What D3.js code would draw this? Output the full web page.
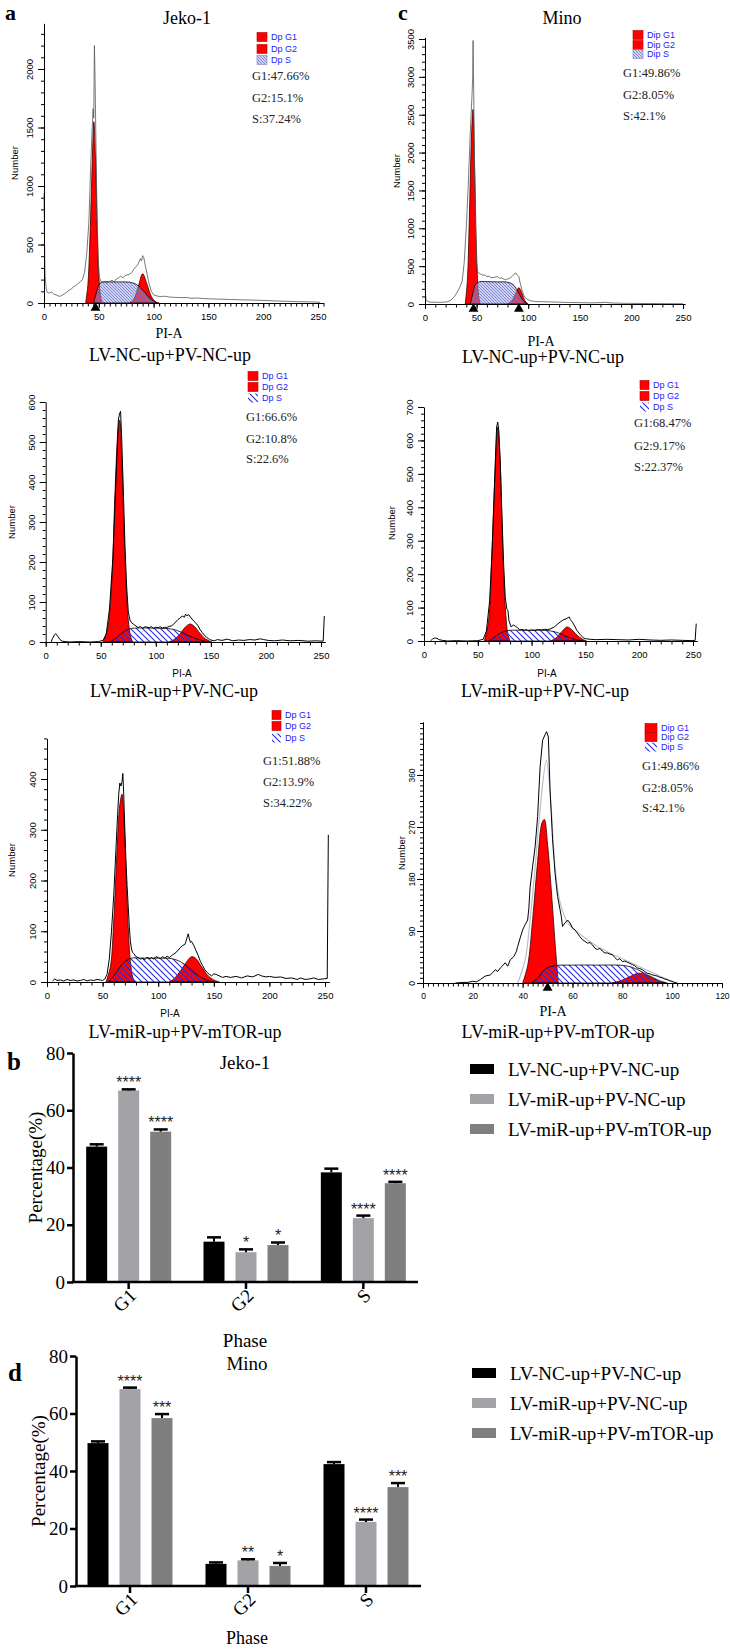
<!DOCTYPE html>
<html><head><meta charset="utf-8">
<script src="https://cdn.jsdelivr.net/npm/d3@7"></script>
<style>body{margin:0;background:#fff}svg{display:block}</style>
</head><body>
<svg id="chart" width="730" height="1652"></svg>
<script>
// ---------------- DATA ----------------
// Flow-cytometry histograms: [PI-A, Number]
const a1Outline = [[0,940],[0.5,500],[1,230],[2,120],[3,90],[5,85],[7,95],[9,75],[11,70],[13,60],[15,58],[17,70],[19,80],[21,95],[23,110],[25,120],[27,140],[29,150],[31,165],[33,180],[35,200],[37,260],[39,420],[41,700],[42.5,1150],[44,1500],[44.8,1660],[45.4,1580],[46,2200],[46.6,1900],[47.5,1300],[48.5,700],[49.5,380],[50.5,220],[52,185],[54,175],[56,180],[58,170],[60,185],[62,195],[64,180],[66,205],[68,215],[70,230],[72,215],[74,235],[76,240],[78,245],[80,260],[82,290],[84,310],[86,335],[88,380],[89,360],[90,405],[91,390],[92,340],[94,250],[96,160],[98,100],[100,70],[103,60],[106,55],[110,58],[115,50],[120,48],[125,46],[130,47],[135,40],[140,43],[145,38],[150,36],[160,33],[170,30],[180,27],[190,25],[200,22],[210,18],[220,15],[230,12],[240,10],[250,8],[252,4]];
const a1G1 = [[38,0],[40,150],[42,580],[44,1200],[45.5,1550],[47,1250],[48.5,650],[50,230],[52,40],[53,0]];
const a1G2 = [[78,0],[82,35],[86,140],[90,250],[94,160],[98,55],[102,10],[105,0]];
const a1S = [[45,0],[47,60],[49,130],[52,175],[56,182],[62,180],[70,180],[78,178],[84,160],[88,130],[92,90],[96,45],[100,15],[103,0]];

const c1Outline = [[0,280],[0.5,120],[1,50],[3,30],[6,25],[10,22],[14,22],[18,24],[22,30],[25,50],[28,90],[31,150],[34,230],[36,300],[38,550],[40,1000],[42,1600],[44,2300],[45.5,2740],[46.2,3000],[46.6,3480],[47.2,2800],[48,1800],[49,1000],[50,520],[51,430],[52,410],[54,395],[56,380],[58,385],[60,360],[62,370],[64,345],[66,350],[68,355],[70,365],[72,340],[74,345],[76,330],[78,320],[80,330],[82,340],[84,360],[86,390],[88,410],[89,385],[90,375],[91,360],[92,290],[94,180],[96,110],[98,70],[100,55],[103,40],[106,35],[110,30],[115,30],[120,28],[130,24],[140,20],[150,18],[160,15],[170,18],[175,22],[180,14],[190,10],[200,8],[220,6],[240,4],[250,4]];
const c1G1 = [[39,0],[41,300],[43,1150],[45,2200],[46.5,2570],[48,1850],[50,650],[52,100],[53.5,0]];
const c1G2 = [[80,0],[84,40],[88,150],[91,215],[94,140],[97,40],[100,0]];
const c1S = [[44,0],[46,120],[49,260],[53,295],[60,295],[70,292],[80,288],[85,260],[89,190],[93,90],[96,30],[99,0]];

const a2Outline = [[5,0],[6,8],[8,18],[9,21],[11,14],[13,6],[15,2],[18,1],[22,0],[30,1],[40,0],[48,1],[52,4],[55,20],[58,85],[61,210],[63,350],[64.5,450],[66,555],[67,570],[68,577],[69,510],[70.5,380],[72,240],[73.5,140],[75,75],[76.5,55],[78,48],[80,44],[82,40],[84,36],[86,39],[88,34],[90,38],[92,37],[94,36],[96,38],[98,34],[100,37],[102,36],[104,38],[106,35],[108,37],[110,36],[112,39],[114,40],[116,44],[118,50],[120,56],[122,60],[124,65],[126,62],[127,70],[128,66],[130,68],[132,60],[134,54],[136,48],[138,42],[140,32],[142,24],[144,17],[146,12],[148,8],[150,5],[153,3],[156,6],[160,4],[165,7],[170,3],[175,5],[180,4],[185,6],[190,5],[195,8],[198,6],[202,4],[208,3],[215,5],[222,3],[230,4],[238,2],[245,3],[252,2],[253,65]];
const a2G1 = [[52,0],[56,30],[60,150],[63,380],[66,540],[67.2,555],[69,460],[71,290],[73,140],[75,55],[77,15],[79,0]];
const a2G2 = [[112,0],[117,7],[122,20],[126,35],[131,45],[135,39],[140,22],[145,8],[151,0]];
const a2S = [[58,0],[62,6],[66,15],[70,24],[74,31],[78,34],[85,35],[95,35],[105,34],[113,33],[119,29],[125,22],[131,14],[137,8],[143,3],[148,0]];

const c2Outline = [[6,0],[8,6],[10,9],[12,8],[14,4],[17,2],[22,0],[30,1],[40,0],[50,1],[55,5],[58,30],[61,120],[63,250],[65,420],[66.5,560],[67.5,640],[68.5,655],[69.5,630],[71,520],[72.5,370],[74,230],[75.5,130],[77,95],[78,92],[79,60],[81,42],[83,48],[85,44],[87,40],[89,33],[91,35],[93,32],[95,34],[97,31],[100,33],[103,32],[106,34],[109,33],[112,35],[115,34],[118,37],[121,42],[124,50],[127,58],[130,64],[132,66],[134,70],[135,72],[136,64],[138,56],[140,45],[142,32],[144,24],[146,16],[148,10],[150,7],[155,5],[160,4],[170,5],[180,4],[190,3],[200,5],[210,3],[220,2],[230,3],[240,2],[250,1],[252,2],[253,52]];
const c2G1 = [[56,0],[60,60],[63,250],[66,500],[68.5,640],[70.5,560],[72,400],[74,200],[76,80],[78,20],[80,0]];
const c2G2 = [[118,0],[123,10],[128,28],[133,42],[137,35],[142,18],[147,6],[151,0]];
const c2S = [[60,0],[65,10],[70,22],[75,29],[80,32],[95,32],[110,32],[118,30],[125,24],[131,15],[137,8],[143,3],[148,0]];

const a3Outline = [[5,2],[7,6],[9,3],[12,4],[15,2],[18,5],[21,3],[24,4],[27,2],[30,3],[33,5],[36,2],[39,4],[42,3],[45,5],[48,4],[50,3],[52,6],[54,15],[56,45],[58,100],[60,170],[62,262],[63.5,330],[64.5,370],[65.5,392],[66.5,386],[67.5,395],[68.2,411],[69,370],[70,300],[71,240],[72,190],[73,150],[74,110],[75,80],[76,65],[77,58],[78,56],[80,50],[82,48],[84,45],[86,47],[88,44],[90,49],[92,46],[94,48],[96,45],[98,50],[100,48],[102,46],[104,50],[106,47],[108,51],[110,48],[112,52],[114,55],[116,58],[118,63],[120,68],[122,72],[124,74],[125,80],[126,88],[127,95],[128,85],[129,78],[130,80],[132,72],[134,62],[136,52],[138,40],[140,32],[142,24],[144,19],[146,15],[148,12],[150,16],[152,15],[155,12],[158,9],[161,11],[165,9],[170,11],[175,8],[180,12],[185,10],[190,15],[193,12],[197,10],[200,11],[205,9],[210,10],[215,7],[220,8],[225,5],[228,8],[232,5],[236,6],[240,8],[244,5],[248,6],[252,7],[253,290]];
const a3G1 = [[53,0],[57,30],[60,120],[63,260],[65.5,350],[67.5,370],[69,330],[71,220],[73,110],[75,40],[77,10],[79,0]];
const a3G2 = [[110,0],[115,8],[120,22],[125,38],[130,50],[134,46],[139,30],[145,12],[150,4],[155,0]];
const a3S = [[55,0],[60,12],[65,28],[70,40],[76,47],[85,47],[100,47],[112,46],[120,40],[127,29],[134,16],[141,6],[150,0]];

const c3Outline = [[13,0],[16,1],[18,1],[20,3],[21.5,2],[23,6],[25,12],[27,14],[28,18],[29,23],[30,20],[31,26],[32,30],[33,35],[34,29],[35,40],[36.5,46],[37.5,55],[38,63],[39,78],[40,92],[41,101],[42,109],[42.5,130],[43,167],[44,202],[45,236],[46,288],[47,374],[48,420],[49,430],[49.6,435],[50.3,426],[51,334],[52,248],[53,190],[54,150],[55,127],[55.5,115],[56,98],[57,104],[58,109],[59,104],[60,95],[61,92],[62,86],[63,80],[64,75],[65,72],[66,69],[67,70],[68,66],[69,60],[70,58],[71,60],[72,55],[73,52],[74,52],[75,50],[76,49],[77,44],[78,40],[79,42],[80,37],[81,38],[82,36],[83,34],[84,32],[85,30],[86,26],[87,25],[88,23],[89,20],[90,17],[91,16],[92,14],[93,13],[94,12],[95,10],[96,9],[97,7],[98,6],[99,4],[100,3],[101,1],[102,0]];
const c3Fit = [[38,0],[41,40],[43,110],[45,200],[47,300],[49.5,385],[51.5,300],[53,200],[55,140],[58,105],[62,88],[66,75],[70,63],[75,52],[80,42],[85,32],[90,22],[94,14],[97,8],[100,2],[102,0]];
const c3G1 = [[40,0],[42,30],[44,110],[46,210],[47.8,278],[48.7,283],[50,240],[51.5,160],[53,70],[54.3,0]];
const c3G2 = [[76,0],[80,5],[83,11],[86.5,17],[90,13],[93,6],[96,1],[97,0]];
const c3S = [[43.5,0],[46,8],[49,24],[53,30],[60,31],[70,31],[80,30.5],[84,27],[88,19],[92,10],[95,4],[98,0]];

const jekoStats1 = ["G1:47.66%","G2:15.1%","S:37.24%"];
const jekoStats2 = ["G1:66.6%","G2:10.8%","S:22.6%"];
const jekoStats3 = ["G1:51.88%","G2:13.9%","S:34.22%"];
const minoStats1 = ["G1:49.86%","G2:8.05%","S:42.1%"];
const minoStats2 = ["G1:68.47%","G2:9.17%","S:22.37%"];
const minoStats3 = ["G1:49.86%","G2:8.05%","S:42.1%"];
const dpNames = ["Dp G1","Dp G2","Dp S"];
const dipNames = ["Dip G1","Dip G2","Dip S"];

// Bar charts
const phases = ["G1","G2","S"];
const groups = ["LV-NC-up+PV-NC-up","LV-miR-up+PV-NC-up","LV-miR-up+PV-mTOR-up"];
const yTicksBar = [0,20,40,60,80];
const jekoNC   = [47.3,14.1,38.3];
const jekoMiR  = [66.9,10.4,22.3];
const jekoMTOR = [52.5,12.9,34.5];
const jekoNCerr   = [0.8,1.5,1.3];
const jekoMiRerr  = [0.4,1.0,0.9];
const jekoMTORerr = [0.8,0.9,0.5];
const jekoMiRstars  = ["****","*","****"];
const jekoMTORstars = ["****","*","****"];
const minoNC   = [49.7,7.7,42.4];
const minoMiR  = [68.5,8.9,22.3];
const minoMTOR = [58.4,7.0,34.4];
const minoNCerr   = [0.6,0.5,0.7];
const minoMiRerr  = [0.5,0.4,0.8];
const minoMTORerr = [1.4,1.0,1.4];
const minoMiRstars  = ["****","**","****"];
const minoMTORstars = ["***","*","***"];

// ---------------- STYLE ----------------
const SERIF = "'Liberation Serif','Times New Roman',serif";
const SANS = "'Liberation Sans',Arial,sans-serif";
const groupColors = ["#000000","#a3a3a7","#7f7f7f"];
const svg = d3.select("#chart");
const defs = svg.append("defs");
function hatch(id, bg, stroke, s, sw){
  const p = defs.append("pattern").attr("id",id).attr("patternUnits","userSpaceOnUse").attr("width",s).attr("height",s);
  if (bg) p.append("rect").attr("width",s).attr("height",s).attr("fill",bg);
  p.append("path").attr("d",`M0,0L${s},${s}M${-1},${s-1}L1,${s+1}M${s-1},-1L${s+1},1`)
    .attr("stroke",stroke).attr("stroke-width",sw);
}
hatch("hLight","rgba(150,155,225,0.45)","#6a70cc",3,0.8);
hatch("hBlue",null,"#2b2bdd",6,1.1);

function txt(x,y,s,opt){
  opt = opt||{};
  const t = svg.append("text").attr("x",x).attr("y",y).text(s)
    .attr("font-family",opt.font||SERIF).attr("font-size",opt.size||18)
    .attr("text-anchor",opt.anchor||"start").attr("fill",opt.fill||"#000");
  if (opt.weight) t.attr("font-weight",opt.weight);
  if (opt.rotate) t.attr("transform",`rotate(${opt.rotate},${x},${y})`);
  if (opt.dy) t.attr("dy",opt.dy);
  return t;
}

// ---------------- HISTOGRAM PANELS ----------------
function histogram(p){
  const g = svg.append("g");
  const x = d3.scaleLinear().domain([0,p.xRefVal]).range([p.xLeft,p.xRefPx]);
  const y = d3.scaleLinear().domain([0,p.yRefVal]).range([p.yBase,p.yRefPx]);
  const area = d3.area().x(d=>x(d[0])).y0(y(0)).y1(d=>y(d[1])).curve(d3.curveCatmullRom.alpha(0.5));
  const smooth = d3.line().x(d=>x(d[0])).y(d=>y(d[1])).curve(d3.curveCatmullRom.alpha(0.5));
  const jag = d3.line().x(d=>x(d[0])).y(d=>y(d[1]));
  [p.g1,p.g2].forEach(d=>g.append("path").datum(d).attr("d",area).attr("fill","#ff0000").attr("stroke","#3a0000").attr("stroke-width",0.8));
  g.append("path").datum(p.s).attr("d",area).attr("fill",`url(#${p.pat})`).attr("stroke","#000").attr("stroke-width",0.8);
  if (p.fit) g.append("path").datum(p.fit).attr("d",smooth).attr("fill","none").attr("stroke","#b9bdcc").attr("stroke-width",1.2);
  g.append("path").datum(p.outline).attr("d",jag).attr("fill","none").attr("stroke",p.lineColor).attr("stroke-width",p.lineWidth);

  const xa = x.copy().domain([0,p.xEnd]).range([p.xLeft,x(p.xEnd)]);
  const ya = y.copy().domain([0,p.yTop]).range([p.yBase,y(p.yTop)]);
  const axStyle = sel=>{sel.selectAll("path,line").attr("stroke","#000").attr("stroke-width",1);};
  g.append("g").attr("transform",`translate(0,${p.yBase})`)
    .call(d3.axisBottom(xa).tickValues(d3.range(0,p.xEnd+1e-6,p.xMinor)).tickSize(3.5).tickSizeOuter(0).tickFormat(""))
    .call(axStyle);
  const xl = g.append("g").attr("transform",`translate(0,${p.yBase})`)
    .call(d3.axisBottom(xa).tickValues(d3.range(0,p.xEnd+1e-6,p.xMajor)).tickSize(5).tickSizeOuter(0).tickPadding(5).tickFormat(d3.format("d")))
    .call(axStyle);
  xl.select(".domain").remove();
  xl.selectAll("text").attr("font-family",SANS).attr("font-size",p.tickFont).attr("fill","#000");
  g.append("g").attr("transform",`translate(${p.xLeft},0)`)
    .call(d3.axisLeft(ya).tickValues(d3.range(0,p.yTop+1e-6,p.yMinor)).tickSize(3).tickSizeOuter(0).tickFormat(""))
    .call(axStyle);
  const yl = g.append("g").attr("transform",`translate(${p.xLeft},0)`)
    .call(d3.axisLeft(ya).tickValues(d3.range(0,p.yMajorMax+1e-6,p.yMajor)).tickSize(6).tickSizeOuter(0).tickFormat(d3.format("d")))
    .call(axStyle);
  yl.select(".domain").remove();
  yl.selectAll("text").attr("font-family",SANS).attr("font-size",p.tickFont).attr("fill","#000")
    .attr("text-anchor","middle").attr("x",0).attr("y",-p.yLabOff).attr("dy","0.35em").attr("transform","rotate(-90)");

  (p.markers||[]).forEach(v=>{
    g.append("path").attr("d",d3.symbol().type(d3.symbolTriangle).size(42)())
      .attr("transform",`translate(${x(v)},${p.yBase+5})`).attr("fill","#000");
  });

  txt(p.numX,p.numY,"Number",{font:SANS,size:9.5,anchor:"middle",rotate:-90,dy:"0.35em"});
  txt(p.piX,p.piY,"PI-A",{font:p.piSerif?SERIF:SANS,size:p.piSerif?14:10,anchor:"middle",dy:"0.35em"});

  // legend
  p.legNames.forEach((n,i)=>{
    const cy = p.legY[i];
    g.append("rect").attr("x",p.legX).attr("y",cy-4.5).attr("width",p.legW).attr("height",9)
      .attr("fill", i<2 ? "#ff0000" : `url(#${p.pat})`)
      .attr("stroke", i<2 ? "#b00000" : (p.pat==="hLight"?"#8080c0":"none")).attr("stroke-width",0.6);
    txt(p.legX+p.legW+4,cy,n,{font:SANS,size:9,fill:"#2222ff",dy:"0.35em"});
  });
  p.stats.forEach((s,i)=>txt(p.statX,p.statY[i],s,{size:12.5,dy:"0.35em",fill:"#222"}));
  txt(p.capX,p.capY,p.caption,{size:18,anchor:"middle",dy:"0.35em"});
}

histogram({xLeft:44,xRefVal:250,xRefPx:318,yBase:303,yRefVal:2000,yRefPx:69,xEnd:255,yTop:2390,
  xMajor:50,xMinor:5,yMajor:500,yMajorMax:2000,yMinor:100,tickFont:9.5,yLabOff:14,
  outline:a1Outline,g1:a1G1,g2:a1G2,s:a1S,pat:"hLight",lineColor:"#555",lineWidth:0.8,markers:[47],
  numX:15,numY:163,piX:169,piY:333,piSerif:true,
  legNames:dpNames,legX:257,legW:10,legY:[37,49,60],stats:jekoStats1,statX:252,statY:[76,98,119],
  caption:groups[0],capX:170,capY:355});
histogram({xLeft:425,xRefVal:250,xRefPx:683,yBase:304,yRefVal:3500,yRefPx:39,xEnd:252,yTop:3520,
  xMajor:50,xMinor:10,yMajor:500,yMajorMax:3500,yMinor:100,tickFont:9.5,yLabOff:14,
  outline:c1Outline,g1:c1G1,g2:c1G2,s:c1S,pat:"hLight",lineColor:"#555",lineWidth:0.8,markers:[47,91],
  numX:397,numY:171,piX:541,piY:341,piSerif:true,
  legNames:dipNames,legX:633,legW:10,legY:[35,45,54],stats:minoStats1,statX:623,statY:[73,95,116],
  caption:groups[0],capX:543,capY:357});
histogram({xLeft:45.7,xRefVal:250,xRefPx:321,yBase:642,yRefVal:600,yRefPx:402,xEnd:254,yTop:600,
  xMajor:50,xMinor:10,yMajor:100,yMajorMax:600,yMinor:20,tickFont:9.5,yLabOff:14,
  outline:a2Outline,g1:a2G1,g2:a2G2,s:a2S,pat:"hBlue",lineColor:"#000",lineWidth:1,
  numX:12,numY:522,piX:182,piY:673,piSerif:false,
  legNames:dpNames,legX:248,legW:10,legY:[376,387,398],stats:jekoStats2,statX:246,statY:[417,439,459],
  caption:groups[1],capX:174,capY:691});
histogram({xLeft:424,xRefVal:250,xRefPx:693,yBase:641,yRefVal:700,yRefPx:407,xEnd:254,yTop:700,
  xMajor:50,xMinor:10,yMajor:100,yMajorMax:700,yMinor:20,tickFont:9.5,yLabOff:14,
  outline:c2Outline,g1:c2G1,g2:c2G2,s:c2S,pat:"hBlue",lineColor:"#000",lineWidth:1,
  numX:392,numY:523,piX:547,piY:673,piSerif:false,
  legNames:dpNames,legX:640,legW:9,legY:[385,396,407],stats:minoStats2,statX:634,statY:[423,446,467],
  caption:groups[1],capX:545,capY:691});
histogram({xLeft:47,xRefVal:250,xRefPx:325,yBase:982,yRefVal:400,yRefPx:779,xEnd:254,yTop:480,
  xMajor:50,xMinor:10,yMajor:100,yMajorMax:400,yMinor:20,tickFont:9.5,yLabOff:14,
  outline:a3Outline,g1:a3G1,g2:a3G2,s:a3S,pat:"hBlue",lineColor:"#000",lineWidth:1,
  numX:12,numY:860,piX:170,piY:1013,piSerif:false,
  legNames:dpNames,legX:272,legW:9,legY:[715,726,738],stats:jekoStats3,statX:263,statY:[761,782,803],
  caption:groups[2],capX:185,capY:1032});
histogram({xLeft:423,xRefVal:120,xRefPx:722,yBase:983,yRefVal:360,yRefPx:775,xEnd:120,yTop:452,
  xMajor:20,xMinor:2,yMajor:90,yMajorMax:360,yMinor:9,tickFont:8.5,yLabOff:11,
  outline:c3Outline,g1:c3G1,g2:c3G2,s:c3S,fit:c3Fit,pat:"hBlue",lineColor:"#000",lineWidth:1,markers:[50],
  numX:402,numY:853,piX:553,piY:1011,piSerif:true,
  legNames:dipNames,legX:645,legW:12,legY:[728,737,747],stats:minoStats3,statX:642,statY:[766,788,808],
  caption:groups[2],capX:558,capY:1032});

// panel titles & letters
txt(5,20,"a",{size:22,weight:"bold"});
txt(187,24,"Jeko-1",{size:18,anchor:"middle"});
txt(398,20,"c",{size:22,weight:"bold"});
txt(562,24,"Mino",{size:18,anchor:"middle"});

// ---------------- BAR CHARTS ----------------
function barChart(p){
  const g = svg.append("g");
  const y = d3.scaleLinear().domain([0,80]).range([p.y0,p.y80]);
  const x0 = d3.scaleBand().domain(phases).range(p.band);
  const x1 = d3.scaleBand().domain(groups).range([-48,48]).paddingInner(11/32).paddingOuter(11/64);
  const series = [p.nc,p.mir,p.mtor], errs = [p.ncErr,p.mirErr,p.mtorErr], stars = [null,p.mirStars,p.mtorStars];
  phases.forEach((ph,i)=>{
    const cx = x0(ph)+x0.bandwidth()/2;
    groups.forEach((gr,j)=>{
      const v = series[j][i], e = errs[j][i];
      const bx = cx + x1(gr), bw = x1.bandwidth(), mx = bx+bw/2;
      g.append("rect").attr("x",bx).attr("y",y(v)).attr("width",bw).attr("height",y(0)-y(v)).attr("fill",groupColors[j]);
      g.append("line").attr("x1",mx).attr("x2",mx).attr("y1",y(v)).attr("y2",y(v+e)).attr("stroke","#000").attr("stroke-width",2);
      g.append("line").attr("x1",mx-7).attr("x2",mx+7).attr("y1",y(v+e)).attr("y2",y(v+e)).attr("stroke","#000").attr("stroke-width",2.5);
      if (stars[j]) g.append("text").attr("x",mx).attr("y",y(v+e)-1).text(stars[j][i])
        .attr("font-family",SANS).attr("font-size",16).attr("text-anchor","middle").attr("fill","#222");
    });
  });
  const ya = g.append("g").attr("transform",`translate(${p.axisX},0)`)
    .call(d3.axisLeft(y).tickValues(yTicksBar).tickSize(6).tickSizeOuter(0).tickPadding(2));
  ya.selectAll("path,line").attr("stroke","#000").attr("stroke-width",2.5);
  ya.selectAll("text").attr("font-family",SERIF).attr("font-size",19).attr("fill","#000");
  const xa = g.append("g").attr("transform",`translate(0,${p.y0})`)
    .call(d3.axisBottom(x0).tickSize(7).tickSizeOuter(0));
  xa.select(".domain").remove();
  xa.selectAll("line").attr("stroke","#000").attr("stroke-width",2.5);
  xa.selectAll("text").attr("font-family",SERIF).attr("font-size",19).attr("fill","#000")
    .attr("text-anchor","end").attr("x",4).attr("y",10).attr("dy","0.35em").attr("transform","rotate(-45,4,10)");
  g.append("line").attr("x1",p.axisX-1.2).attr("x2",p.xEnd).attr("y1",p.y0).attr("y2",p.y0).attr("stroke","#000").attr("stroke-width",2.5);

  txt(p.axisX-38,(p.y0+p.y80)/2,"Percentage(%)",{size:19,anchor:"middle",rotate:-90,dy:"0.35em"});
  txt(p.titleX,p.titleY,p.title,{size:19,anchor:"middle",dy:"0.35em"});
  txt(p.titleX,p.phaseY,"Phase",{size:p.phaseSize,anchor:"middle",dy:"0.35em"});
  txt(p.letterX,p.letterY,p.letter,{size:25,weight:"bold"});
  groups.forEach((gr,j)=>{
    const cy = p.legY + j*30;
    g.append("rect").attr("x",p.legX).attr("y",cy-5).attr("width",24).attr("height",10).attr("fill",groupColors[j]);
    txt(p.legX+38,cy,gr,{size:19,dy:"0.35em"});
  });
}

barChart({y0:1282,y80:1053,band:[70,422],axisX:73,xEnd:418,
  nc:jekoNC,mir:jekoMiR,mtor:jekoMTOR,ncErr:jekoNCerr,mirErr:jekoMiRerr,mtorErr:jekoMTORerr,
  mirStars:jekoMiRstars,mtorStars:jekoMTORstars,
  title:"Jeko-1",titleX:245,titleY:1062,phaseY:1340,phaseSize:19,letter:"b",letterX:7,letterY:1070,legX:470,legY:1069});
barChart({y0:1586,y80:1356,band:[71,425],axisX:76,xEnd:421,
  nc:minoNC,mir:minoMiR,mtor:minoMTOR,ncErr:minoNCerr,mirErr:minoMiRerr,mtorErr:minoMTORerr,
  mirStars:minoMiRstars,mtorStars:minoMTORstars,
  title:"Mino",titleX:247,titleY:1363,phaseY:1638,phaseSize:18,letter:"d",letterX:8,letterY:1381,legX:472,legY:1373});
</script>
</body></html>
